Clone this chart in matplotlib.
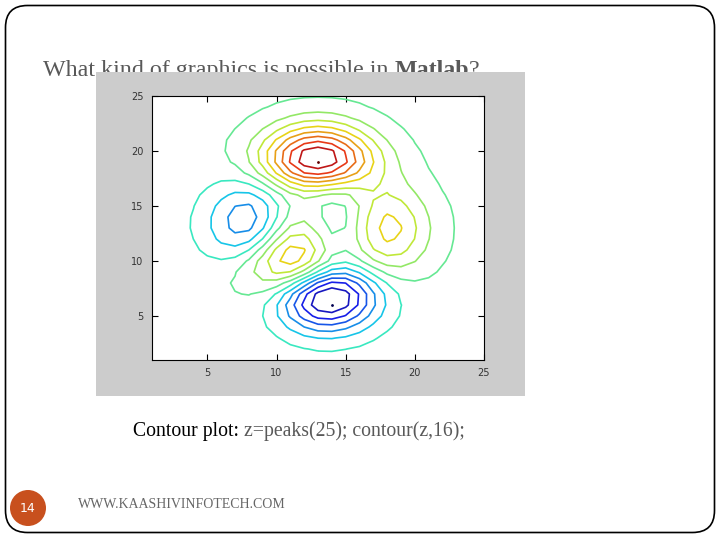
import numpy as np
import matplotlib.pyplot as plt
from matplotlib.patches import FancyBboxPatch, Rectangle, Circle
from matplotlib.colors import Normalize

# peaks(25) as named in the slide caption
n_grid = 25
n_levels = 16
grid = np.linspace(-3, 3, n_grid)
gx, gy = np.meshgrid(grid, grid)
z = (3 * (1 - gx) ** 2 * np.exp(-gx ** 2 - (gy + 1) ** 2)
     - 10 * (gx / 5 - gx ** 3 - gy ** 5) * np.exp(-gx ** 2 - gy ** 2)
     - 1 / 3 * np.exp(-(gx + 1) ** 2 - gy ** 2))
idx = np.arange(1, n_grid + 1)

xticks = [5, 10, 15, 20, 25]
yticks = [5, 10, 15, 20, 25]

title_plain = "What kind of graphics is possible in "
title_bold = "Matlab"
caption_head = "Contour plot:"
caption_code = " z=peaks(25); contour(z,16);"
page_no = "14"
footer = "WWW.KAASHIVINFOTECH.COM"

fig = plt.figure(figsize=(7.2, 5.4), dpi=100)

# slide background in pixel coords
bg = fig.add_axes([0, 0, 1, 1])
bg.set_xlim(0, 720)
bg.set_ylim(540, 0)
bg.axis('off')
bg.set_zorder(0)

frame = FancyBboxPatch((5.5, 5.5), 709, 527, boxstyle="round,pad=0,rounding_size=22",
                       fill=False, ec='black', lw=1.2)
bg.add_patch(frame)

t1 = bg.text(43, 76, title_plain, fontsize=17.3, family='Liberation Serif',
             color='#595959', va='baseline', zorder=1)
t2 = bg.annotate(title_bold, xy=(1, 0), xycoords=t1, fontsize=17.3,
                 family='Liberation Serif', fontweight='bold', color='#595959',
                 va='bottom', zorder=1)
bg.annotate("?", xy=(1, 0), xycoords=t2, fontsize=17.3, family='Liberation Serif',
            color='#595959', va='bottom', zorder=1)

# grey matlab figure window
bg.add_patch(Rectangle((96, 72), 429, 324, fc='#cccccc', ec='none', zorder=2))

c1 = bg.text(133, 436, caption_head, fontsize=14.2, family='Liberation Serif',
             color='black', va='baseline')
bg.annotate(caption_code, xy=(1, 0), xycoords=c1, fontsize=14.2,
            family='Liberation Serif', color='#595959', va='bottom')

bg.add_patch(Circle((28, 508), 18, fc='#c8501e', ec='none'))
bg.text(28, 508, page_no, fontsize=9, color='white', ha='center', va='center')
bg.text(78, 504, footer, fontsize=10, family='Liberation Serif', color='#666666',
        va='center')

# contour axes
ax = fig.add_axes([152 / 720, 1 - 360 / 540, 332 / 720, 264 / 540])
ax.set_zorder(3)
zmin, zmax = z.min(), z.max()
levels = np.linspace(zmin, zmax, n_levels)
norm = Normalize(vmin=zmin, vmax=zmax)
# jet, slightly muted like the screenshot
line_colors = plt.get_cmap('jet')(norm(levels))[:, :3]
line_colors = 0.82 * line_colors + 0.18 * 0.5
ax.contour(idx, idx, z, levels=levels, colors=[tuple(c) for c in line_colors],
           linewidths=1.2)

# the end levels collapse to single points at the extremes
iy_max, ix_max = np.unravel_index(np.argmax(z), z.shape)
iy_min, ix_min = np.unravel_index(np.argmin(z), z.shape)
ax.plot(idx[ix_max], idx[iy_max], marker='.', ms=2, color='#600000')
ax.plot(idx[ix_min], idx[iy_min], marker='.', ms=2, color='#000050')

ax.set_xlim(1, 25)
ax.set_ylim(1, 25)
ax.set_xticks(xticks)
ax.set_yticks(yticks)
ax.tick_params(direction='in', length=4, width=0.8, labelsize=7,
               top=True, right=True, colors='black', labelcolor='#333333', pad=6)
for s in ax.spines.values():
    s.set_linewidth(0.8)

fig.savefig('out.png', dpi=100)
